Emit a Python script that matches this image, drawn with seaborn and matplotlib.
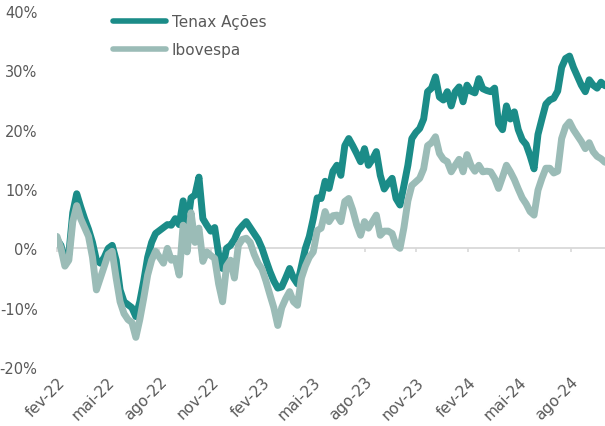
import numpy as np
import pandas as pd
import matplotlib
matplotlib.use("Agg")
import matplotlib.pyplot as plt
import matplotlib.ticker as mticker
import seaborn as sns

# ---- data (weekly, % accumulated) ----
start_date = "2022-02-01"
tenax = [1.5, 0.5, -2, -1, 6, 9.2, 7, 5, 3.2, 1, -2, -2.5, -1.5, 0, 0.5, -2, -7, -9, -9.5, -10,
         -11.5, -9, -5.5, -1.5, 1, 2.5, 3, 3.5, 4, 3.9, 5, 4, 8, 3.4, 8.5, 9, 12, 5, 3.9, 2.9,
         3.5, -1, -3.4, 0, 0.5, 1.5, 3, 3.8, 4.5, 3.5, 2.5, 1.5, 0, -2, -3.9, -5.5, -6.7, -6.5, -5, -3.4,
         -5, -6, -3, 0, 2, 5, 8.5, 8.4, 11.3, 10.1, 13, 14, 12.3, 17.3, 18.5, 17.3, 16, 14.6, 16.8, 14,
         15, 16.3, 12.3, 10, 11, 11.8, 8.4, 7.3, 10.6, 14, 18.5, 19.5, 20.2, 21.8, 26.4, 27, 28.9, 25.5, 25, 26.4,
         24, 26.4, 27.2, 24.7, 27.5, 26.5, 26.2, 28.6, 26.9, 26.6, 26.4, 27, 21, 20, 24, 21.8, 23, 20, 18.3, 17.5,
         15.6, 13.4, 19.2, 21.8, 24.3, 25, 25.3, 26.5, 30.5, 32, 32.4, 30.5, 29, 27.5, 26.4, 28.4, 27.5, 27, 28, 27.4]
ibov = [2.0, 0.0, -3, -2, 4.5, 7.2, 5, 3.5, 2, -1.5, -7, -5, -3, -1, -0.5, -5, -9, -11, -12, -12.5,
        -15, -12, -8.4, -4.5, -2, -0.5, -1.5, -2.5, 0, -2, -1.7, -4.5, 3.9, -0.6, 6, 1, 3.4, -2.2, -0.6, -1.2,
        -1.7, -6, -9, -3, -2, -5, 0.5, 1.5, 1.7, 1, -1, -2.5, -3.5, -5.5, -7.8, -10, -13, -10, -8.5, -7.3,
        -9, -9.6, -5, -3, -1.5, -0.6, 3, 3.4, 6.2, 4.5, 5.5, 5.6, 4.5, 7.9, 8.4, 6.5, 4, 2.2, 4.5, 3.4,
        4.5, 5.6, 2.2, 2.9, 2.9, 2.5, 0.5, 0, 3.5, 8, 10.6, 11.2, 11.8, 13.4, 17.3, 17.8, 18.8, 16, 15, 14.6,
        12.9, 14, 15, 12.9, 15.8, 14, 13, 14, 12.9, 13, 12.9, 11.8, 10.1, 12, 14, 12.9, 11.6, 10, 8.5, 7.5,
        6.2, 5.6, 9.8, 11.8, 13.5, 13.5, 12.7, 13, 18.5, 20.5, 21.3, 20, 19, 18, 16.8, 17.8, 16.3, 15.5, 15.1, 14.5]
series_names = ["Tenax Ações", "Ibovespa"]
tick_dates = ["2022-02-01", "2022-05-01", "2022-08-01", "2022-11-01", "2023-02-01", "2023-05-01",
              "2023-08-01", "2023-11-01", "2024-02-01", "2024-05-01", "2024-08-01"]
tick_labels = ["fev-22", "mai-22", "ago-22", "nov-22", "fev-23", "mai-23",
               "ago-23", "nov-23", "fev-24", "mai-24", "ago-24"]
y_ticks = [-0.2, -0.1, 0.0, 0.1, 0.2, 0.3, 0.4]

dates = pd.date_range(start_date, periods=len(tenax), freq="7D")
df = pd.concat([
    pd.DataFrame({"Data": dates, "Retorno": np.array(tenax) / 100, "Serie": series_names[0]}),
    pd.DataFrame({"Data": dates, "Retorno": np.array(ibov) / 100, "Serie": series_names[1]}),
])

sns.set_theme(style="white")
plt.rcParams["font.family"] = ["DejaVu Sans"]
plt.rcParams["lines.solid_capstyle"] = "round"
plt.rcParams["lines.solid_joinstyle"] = "round"

text_color = "#595959"
colors = {series_names[0]: "#1b8c88", series_names[1]: "#9bbcb7"}

fig = plt.figure(figsize=(6.05, 4.27), dpi=100)
ax = fig.add_axes([57 / 605, 1 - 368 / 427, (605 - 57) / 605, (368 - 12) / 427])

sns.lineplot(data=df, x="Data", y="Retorno", hue="Serie", hue_order=series_names,
             palette=colors, linewidth=5, ax=ax, legend=True)

ymin, ymax = -0.2, 0.4
ax.set_ylim(ymin, ymax)
ax.set_xlim(dates[0], dates[-1])
ax.set_yticks(y_ticks)
ax.yaxis.set_major_formatter(mticker.FuncFormatter(lambda v, p: f"{round(v * 100):.0f}%"))
ax.set_xticks(pd.to_datetime(tick_dates))
ax.set_xticklabels(tick_labels, rotation=45, ha="right", rotation_mode="anchor")
ax.tick_params(axis="both", length=0, labelsize=11, labelcolor=text_color)
ax.tick_params(axis="y", pad=14, labelsize=10.5)
ax.tick_params(axis="x", pad=5)
ax.set_xlabel("")
ax.set_ylabel("")
for s in ax.spines.values():
    s.set_visible(False)

# zero axis line with tick marks
loc0 = (0 - ymin) / (ymax - ymin)
sec = ax.secondary_xaxis(loc0)
sec.set_xticks(pd.to_datetime(tick_dates))
sec.tick_params(axis="x", length=3, width=1.2, color="#d9d9d9", labelbottom=False, labeltop=False)
for s in sec.spines.values():
    s.set_color("#d9d9d9")
    s.set_linewidth(1.3)

handles, labels = ax.get_legend_handles_labels()
leg = ax.legend(handles, labels, loc="upper left", bbox_to_anchor=(113 / 605, 1 - 15 / 427),
                bbox_transform=fig.transFigure, frameon=False, borderpad=0, borderaxespad=0,
                handlelength=3.5, handletextpad=0.35, labelspacing=0.85, fontsize=11)
for t in leg.get_texts():
    t.set_color(text_color)
for h in leg.get_lines():
    h.set_linewidth(4)
    h.set_solid_capstyle("round")

fig.savefig("out.png", dpi=100)
